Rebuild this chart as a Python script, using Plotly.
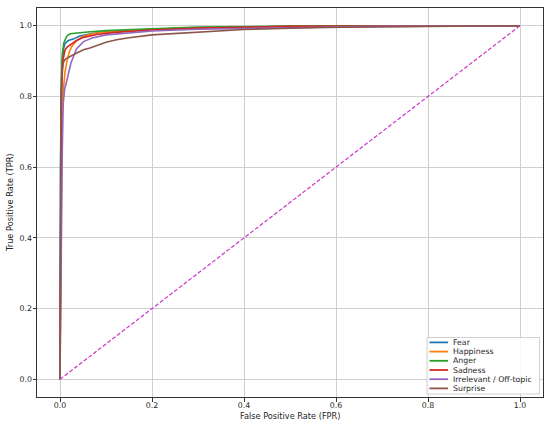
import plotly.graph_objects as go

classes = ["Fear", "Happiness", "Anger", "Sadness", "Irrelevant / Off-topic", "Surprise"]
colors = ["#1f77b4", "#ff7f0e", "#2ca02c", "#d62728", "#9467bd", "#8c564b"]

fear_fpr = [0, 0.001, 0.003, 0.005, 0.008, 0.011, 0.018, 0.029, 0.043, 0.07, 0.1, 0.2, 0.3, 0.5, 1.0]
fear_tpr = [0, 0.6, 0.82, 0.9, 0.935, 0.95, 0.958, 0.962, 0.971, 0.978, 0.983, 0.99, 0.994, 0.998, 1.0]

happiness_fpr = [0, 0.002, 0.004, 0.006, 0.008, 0.011, 0.015, 0.02, 0.025, 0.03, 0.036, 0.051, 0.07, 0.1, 0.2, 0.3, 0.5, 1.0]
happiness_tpr = [0, 0.5, 0.72, 0.8, 0.84, 0.87, 0.9, 0.925, 0.94, 0.948, 0.958, 0.97, 0.977, 0.982, 0.99, 0.994, 0.998, 1.0]

anger_fpr = [0, 0.001, 0.003, 0.005, 0.008, 0.012, 0.016, 0.022, 0.035, 0.06, 0.1, 0.2, 0.3, 0.5, 1.0]
anger_tpr = [0, 0.6, 0.85, 0.92, 0.95, 0.963, 0.972, 0.977, 0.979, 0.982, 0.986, 0.992, 0.996, 0.999, 1.0]

sadness_fpr = [0, 0.001, 0.003, 0.006, 0.011, 0.016, 0.022, 0.036, 0.051, 0.08, 0.12, 0.2, 0.3, 0.5, 1.0]
sadness_tpr = [0, 0.55, 0.8, 0.9, 0.932, 0.94, 0.946, 0.958, 0.967, 0.975, 0.981, 0.988, 0.993, 0.998, 1.0]

irrelevant_fpr = [0, 0.003, 0.005, 0.007, 0.01, 0.014, 0.018, 0.024, 0.03, 0.036, 0.051, 0.07, 0.1, 0.15, 0.2, 0.3, 0.5, 0.7, 1.0]
irrelevant_tpr = [0, 0.45, 0.65, 0.78, 0.82, 0.84, 0.86, 0.895, 0.915, 0.935, 0.955, 0.965, 0.974, 0.98, 0.985, 0.99, 0.995, 0.998, 1.0]

surprise_fpr = [0, 0.001, 0.002, 0.004, 0.007, 0.011, 0.02, 0.029, 0.04, 0.051, 0.065, 0.087, 0.1, 0.123, 0.15, 0.2, 0.283, 0.4, 0.565, 0.75, 1.0]
surprise_tpr = [0, 0.5, 0.75, 0.86, 0.895, 0.905, 0.912, 0.918, 0.925, 0.932, 0.937, 0.948, 0.953, 0.96, 0.966, 0.974, 0.981, 0.989, 0.995, 0.998, 1.0]

diag = [0, 1]
tick_vals = [0.0, 0.2, 0.4, 0.6, 0.8, 1.0]

curves = [
    (fear_fpr, fear_tpr),
    (happiness_fpr, happiness_tpr),
    (anger_fpr, anger_tpr),
    (sadness_fpr, sadness_tpr),
    (irrelevant_fpr, irrelevant_tpr),
    (surprise_fpr, surprise_tpr),
]

W, H = 550, 428
L, R, T, B = 37, 7, 8, 31
FONT = "DejaVu Sans"
TXT = "#262626"

def px(xp):
    return (xp - L) / (W - L - R)

def py(yp):
    return (H - B - yp) / (H - T - B)

fig = go.Figure()
for (f, t), name, c in zip(curves, classes, colors):
    fig.add_trace(go.Scatter(x=f, y=t, mode="lines", name=name,
                             line=dict(color=c, width=1.6), showlegend=False))

fig.add_trace(go.Scatter(x=diag, y=diag, mode="lines", showlegend=False,
                         line=dict(color="#cc33cc", width=1.2, dash="4px,2px")))

# custom legend (matplotlib style, compact)
shapes = [dict(type="rect", xref="paper", yref="paper",
               x0=px(427), x1=px(539.5), y0=py(394), y1=py(337.5),
               line=dict(color="#d0d0d0", width=1), fillcolor="rgba(255,255,255,0.85)",
               layer="above")]
annotations = []
for i, (name, c) in enumerate(zip(classes, colors)):
    yy = 342.4 + 9.2 * i
    shapes.append(dict(type="line", xref="paper", yref="paper",
                       x0=px(429.5), x1=px(448), y0=py(yy), y1=py(yy),
                       line=dict(color=c, width=1.8), layer="above"))
    annotations.append(dict(xref="paper", yref="paper", x=px(451), y=py(yy),
                            text=name, showarrow=False, xanchor="left", yanchor="middle",
                            font=dict(family=FONT, size=7.8, color=TXT)))

annotations.append(dict(xref="paper", yref="paper", x=px(290), y=py(415.5),
                        text="False Positive Rate (FPR)", showarrow=False,
                        xanchor="center", yanchor="middle",
                        font=dict(family=FONT, size=8.2, color=TXT)))
annotations.append(dict(xref="paper", yref="paper", x=px(10), y=py(203),
                        text="True Positive Rate (TPR)", showarrow=False, textangle=-90,
                        xanchor="center", yanchor="middle",
                        font=dict(family=FONT, size=8.2, color=TXT)))

axis_common = dict(
    range=[-0.05, 1.05], tickvals=tick_vals, tickformat=".1f",
    showgrid=True, gridcolor="#cfcfcf", gridwidth=1,
    showline=True, linecolor="#333333", linewidth=1, mirror=True,
    ticks="outside", ticklen=3.5, tickcolor="#333333", tickwidth=1,
    zeroline=False, automargin=False,
    tickfont=dict(family=FONT, size=7.8, color=TXT),
)

fig.update_layout(
    width=W, height=H,
    margin=dict(l=L, r=R, t=T, b=B),
    paper_bgcolor="white", plot_bgcolor="white",
    xaxis=dict(axis_common, ticklabelstandoff=-3),
    yaxis=dict(axis_common, ticklabelstandoff=-1),
    shapes=shapes, annotations=annotations,
    showlegend=False,
)

fig.write_html("out.html", config={"displayModeBar": False},
               post_script="document.body.style.margin='0';document.body.style.padding='0';")
